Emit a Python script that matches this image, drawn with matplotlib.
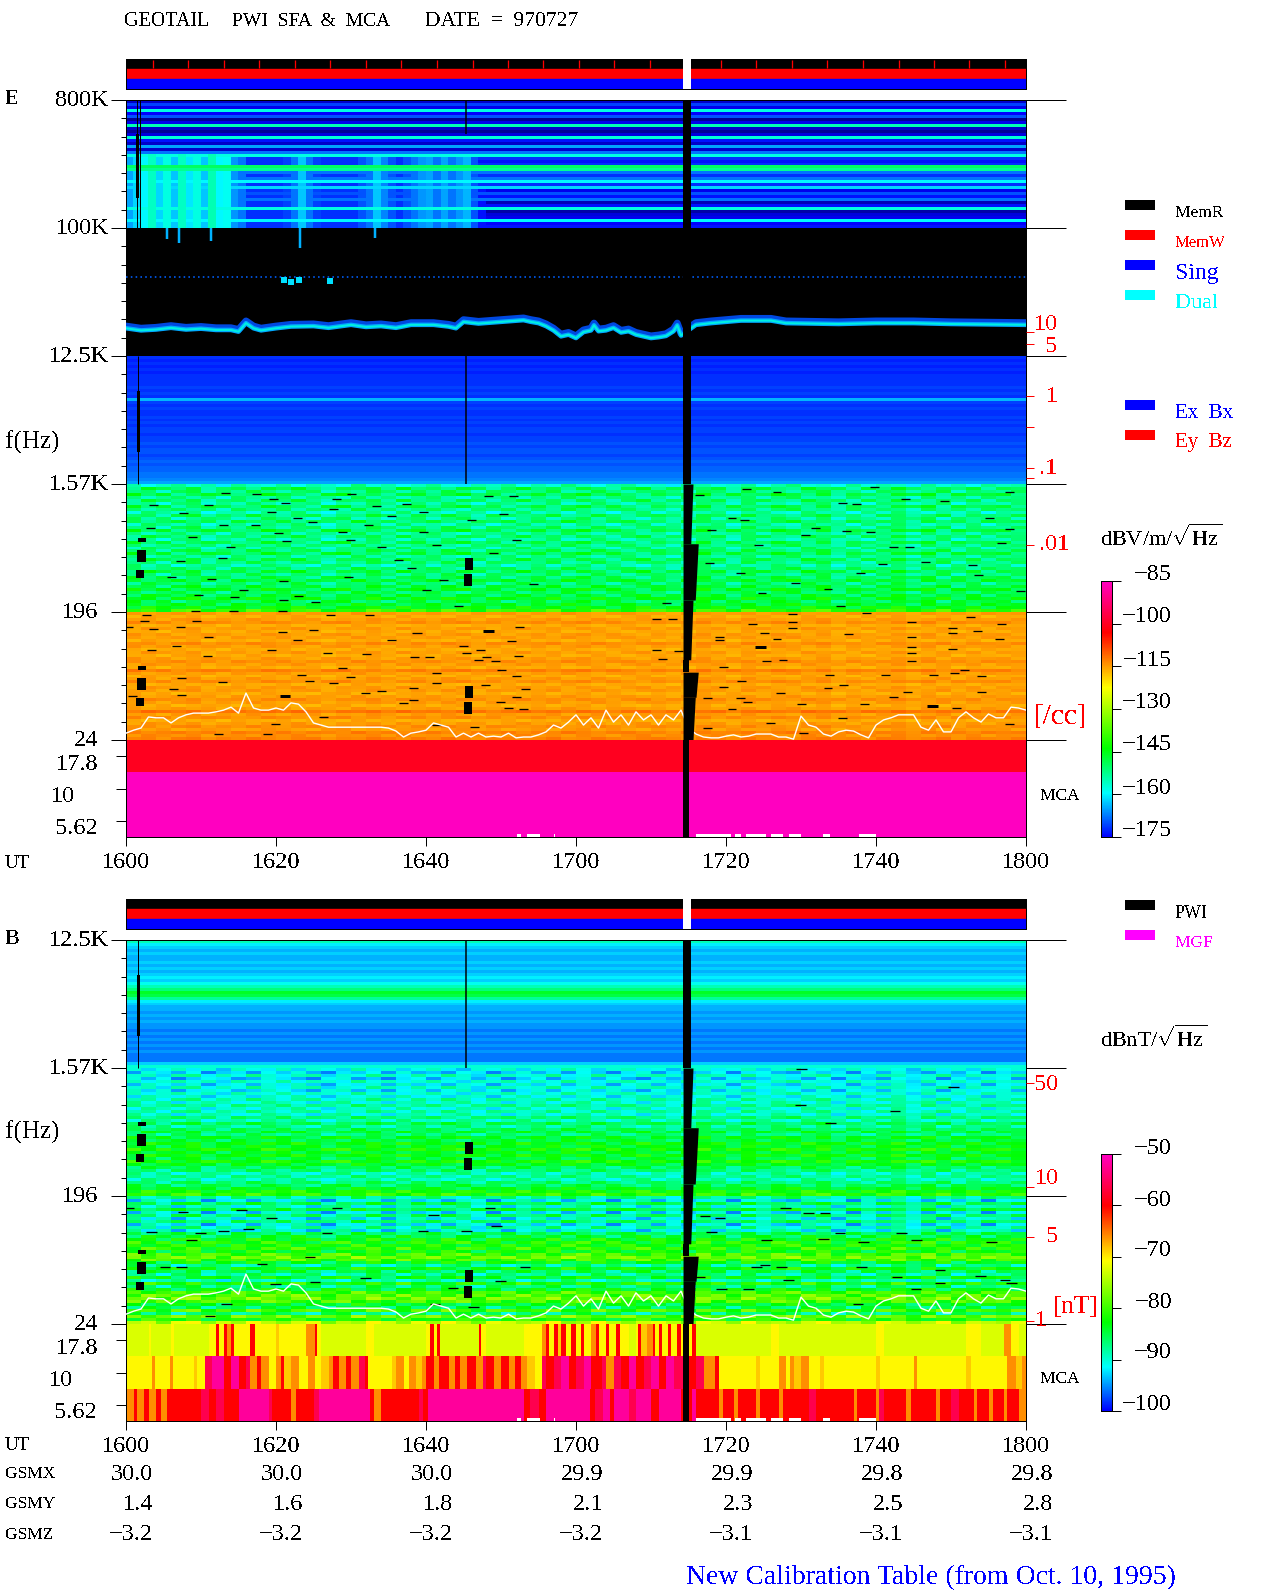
import numpy as np
import matplotlib
matplotlib.use("Agg")
import matplotlib.pyplot as plt
from matplotlib.colors import LinearSegmentedColormap, Normalize
from matplotlib.ticker import FixedLocator, NullFormatter

plt.rcParams['font.family'] = ['Liberation Serif', 'DejaVu Serif']
plt.rcParams['text.antialiased'] = False
plt.rcParams['mathtext.fontset'] = 'custom'
plt.rcParams['mathtext.rm'] = 'Liberation Serif'

# ---------- values (minutes after 1600 UT, octaves above 24 Hz, dB) ----------
UT_LABELS = ['1600', '1620', '1640', '1700', '1720', '1740', '1800']
GSMX = ['30.0', '30.0', '30.0', '29.9', '29.9', '29.8', '29.8']
GSMY = ['1.4', '1.6', '1.8', '2.1', '2.3', '2.5', '2.8']
GSMZ = ['-3.2', '-3.2', '-3.2', '-3.2', '-3.1', '-3.1', '-3.1']

E_HF_ROWS = [-178, -171, -176, -158, -175, -170, -181, -176, -155, -178, -181, -177, -157, -174, -178, -165,
             -178, -168, -158, -172, -174, -172, -150, -153, -168, -172, -168, -160, -172, -162, -176, -170,
             -174, -168, -179, -174, -158, -180, -177, -176, -160, -175, -174]
E_BURST = [-165, -162, -160, -156, -162, -158, -163, -156, -161, -158, -163, -155, -160, -159, -166, -168,
           -172, -172, -172, -172, -172, -171, -168, -163, -168, -171, -172, -172, -172, -172, -172, -170,
           -168, -163, -167, -170, -172, -170, -168, -166, -165, -168, -165, -168, -166, -164, -170, -174,
           ] + [-190] * 72
E_MIDHF_ROWS = [-172, -173, -172, -173, -172, -173, -172, -172, -172, -172, -171, -172, -171, -172, -164, -171,
                -172, -171, -172, -172, -171, -172, -171, -172, -171, -171, -172, -171, -171, -170, -171, -170,
                -170, -171, -170, -169, -170, -169, -169, -168, -168, -167, -165]
E_MID_ROWS = [-156, -150, -152, -149, -153, -151, -154, -150, -152, -155, -151, -153, -150, -154, -152, -149,
              -153, -151, -154, -150, -152, -153, -151, -149, -153, -150, -152, -154, -151, -149, -152, -150,
              -148, -151, -149, -147, -150, -148, -146, -149, -147, -145, -140]
E_LOW_ROWS = [-115, -116, -115, -114, -116, -115, -116, -115, -115, -116, -114, -115, -116, -115, -116, -115,
              -114, -115, -116, -113, -115, -116, -115, -114, -116, -115, -115, -116, -115, -114, -115, -116,
              -115, -112, -115, -114, -116, -115, -114, -115, -113, -114, -113]
COL_A = [1, -2, 0, 2, -1, 1, -3, 2, 0, -1, 2, -2, 1, 0, -2, 3, -1, 1, -2, 0, 2, -1, -3, 1, 0, 2, -2, 1, -1, 3,
         0, -2, 1, 2, -1, 0, -3, 2, 1, -1, 0, 2, -2, 1, 3, -1, 0, -2, 2, -1, 1, 0, -3, 2, -1, 1, -2, 2, 0, 1]
COL_B = [-2, 3, 1, -1, 2, -3, 0, 1, -2, 2, 0, 3, -1, -3, 1, 0, 2, -2, 3, -1, 0, -2, 2, 1, -3, 0, 3, -1, 1, -2,
         2, 0, -3, 1, 3, -2, 1, -1, 0, 2, -3, 1, 2, -1, -2, 3, 0, 1, -3, 2, -1, 3, 0, -2, 1, -1, 2, -3, 1, 0]
COL_C = [0, 1, -3, 2, 3, -2, 1, -1, 3, 0, -2, 1, 2, -3, 0, -1, 3, 1, -2, 2, -1, 3, 0, -3, 2, 1, -1, 0, 3, -2,
         -1, 3, 0, -2, 1, 2, 0, -3, 2, 1, -2, 3, -1, 0, -2, 1, 3, -1, 0, -3, 2, 1, -2, 0, 3, -3, 1, 0, -1, 2]
COL_D = [3, -1, 2, -3, 0, 2, 1, -2, -1, 3, 1, -1, -3, 2, 3, -2, 0, -3, 1, 2, -2, 1, 3, -1, 1, -3, 0, 2, -2, 1,
         3, -1, 2, -1, -3, 1, -1, 0, 3, -2, 2, -1, 0, 3, 1, -2, 2, -3, 1, 0, -2, 2, 1, 3, -3, 2, 0, 1, 2, -2]
COL_LISTS = [COL_A, COL_B, COL_C, COL_D]
E_MCA_LEVELS = [-100, -85, -85]

B_TOP_ROWS = [-89, -92, -93, -94, -93, -94, -94, -93, -94, -93, -94, -93, -92, -93, -91, -89, -87, -84, -85, -88,
              -92, -93, -94, -94, -95, -94, -95, -94, -95, -95, -96, -95, -96, -95, -96, -95, -96, -95, -96, -96,
              -96, -93, -90]
B_MID_ROWS = [-91, -93, -90, -93, -90, -92, -90, -92, -90, -91, -89, -90, -88, -90, -89, -90, -87, -89, -86, -88,
              -86, -85, -87, -84, -85, -83, -84, -82, -84, -83, -85, -82, -84, -86, -87, -89, -88, -89, -87, -86,
              -84, -82, -81]
B_LOW_ROWS = [-88, -92, -86, -90, -85, -92, -87, -91, -87, -92, -89, -91, -86, -85, -83, -82, -82, -81, -83, -80,
              -78, -80, -84, -88, -83, -86, -88, -84, -89, -82, -87, -84, -80, -79, -78, -80, -84, -86, -80, -87,
              -78, -82, -74]

MCA_LEVEL = {'g': -72.5, 'y': -70.5, 'l': -68.5, 'o': -66, 'r': -60, 'p': -56, 'm': -52}
B_MCA_17 = ("0g 3y 3.3g 6y 6.4g 11y 12r 12.4y 13r 13.5o 14r 14.4y 16.5r 17.2y 20l 20.4y 24o 25.2r 25.5y 26g 32y 33g "
            "40y 40.5r 41y 41.5r 41.9g 47r 47.3y 48g 53y 55.5o 56r 56.4y 57r 57.6l 58r 58.6y 59.3r 60y 60.6r 61y "
            "62o 62.6r 63y 64r 64.4y 65.3r 65.8y 67g 68y 68.3r 68.7l 69.5o 70.2r 70.5y 71r 71.4y 72.3r 72.7y 73.5r "
            "74y 75.5r 76g 86y 87g 100y 101g 112y 114g 117o 118y 119g")
B_MCA_10 = ("0y 3.4o 3.8y 5.8o 6.2y 9l 9.4y 10.5p 11.5m 13r 14m 15r 16p 16.5o 17.5r 18o 19y 20o 20.6r 21l 22o 23y "
            "24.2o 25.2y 26l 27o 27.6r 28.4o 29.3r 30o 31p 31.8r 32.2y 35.5l 36o 37y 37.7o 38.6l 39.4o 40r 41o 41.7r "
            "43o 43.8r 44.5o 45.5r 46.6o 47.6p 48r 49o 50r 51o 51.8r 52.6o 53.4l 54.5y 55.5p 56r 57p 58m 59r 60p 61m "
            "62r 63.4p 64o 65p 66r 67m 68r 69p 70m 71r 72m 73p 74.4r 76p 77o 78.5r 79y 84l 84.5y 87o 88y 88.5o 89l "
            "90o 91y 92.5l 93y 100l 100.5y 105o 105.4y 112l 112.6y 117.5o 118.6l 119.4o")
B_MCA_5 = ("0o 1r 1.5o 2.4r 3o 4r 4.6o 5.4r 10p 11r 12p 13r 15m 19p 19.4r 22o 22.6r 25p 25.7m 32.5r 33o 34r 39p 39.6r "
           "40.3m 53r 53.8p 55r 56m 61.8r 62.5p 63.6m 64.5r 65m 67p 68m 70r 71m 74r 75.5m 76r 79o 79.6r 81o 81.6r "
           "84o 84.5r 87o 87.6r 91p 92r 97o 97.5r 100o 100.4p 101r 104o 104.6r 108o 108.5r 110p 111r 113o 113.4r "
           "115o 115.6r 117o 117.5r 119o")
MCA_WHITE_T0 = [52.1, 53.5, 57.0, 76.0, 81.2, 82.6, 86.0, 88.4, 92.9, 97.7]
MCA_WHITE_T1 = [52.7, 55.2, 57.2, 80.6, 82.0, 85.3, 87.6, 90.0, 93.8, 100.0]

PLASMA_T = [0, 2, 4, 6, 8, 10, 12, 14, 15, 16, 17, 18, 20, 22, 25, 27, 30, 32, 34, 36, 38, 41, 43, 44, 45, 47, 50,
            53, 54, 55, 56, 57, 58, 59, 60, 61, 62, 62.4, 63, 64, 65, 66, 67, 68, 69, 70, 71, 72, 73, 73.5, 74,
            76, 78, 82, 86, 88, 95, 100, 105, 110, 115, 120]
PLASMA_OCT = [9.65, 9.60, 9.62, 9.66, 9.62, 9.64, 9.61, 9.61, 9.57, 9.77, 9.65, 9.60, 9.65, 9.69, 9.70, 9.66, 9.73,
              9.68, 9.70, 9.66, 9.73, 9.73, 9.69, 9.65, 9.80, 9.76, 9.80,
              9.84, 9.80, 9.77, 9.70, 9.60, 9.46, 9.50, 9.42, 9.56, 9.60, 9.72, 9.58, 9.60, 9.66, 9.55, 9.58, 9.50,
              9.46, 9.42, 9.44, 9.47, 9.58, 9.72, 9.48,
              9.73, 9.77, 9.83, 9.83, 9.77, 9.75, 9.77, 9.77, 9.75, 9.74, 9.73]
CONT_OCT = 10.84
DRIFT_T = [5.4, 7.0, 11.3, 23.2, 33.2]
DRIFT_OCT = [11.75, 11.65, 11.70, 11.53, 11.76]
BLOB_T = [21.0, 22.0, 23.0, 27.2]
BLOB_OCT = [10.78, 10.74, 10.78, 10.76]

TRACE_OCT = [.16, .23, .28, .54, .52, .52, .40, .52, .59, .63, .63, .63, .66, .70, .77, .63, 1.10, .75, .70, .70,
             .75, .70, .87, .84, .66, .40, .35, .30, .30, .30, .30, .30, .30, .30, .30, .28, .21, .07, .16, .19,
             .23, .40, .35, .30, .07, .16, .07, .16, .07, .09, .07, .16, .05, .07, .07, .12, .19, .35, .28, .42,
             .59, .35, .52, .28, .70, .42, .59, .35, .66, .47, .59, .35, .59, .47, .70, .28, .14, .07, .05, .05,
             .09, .12, .07, .09, .14, .14, .14, .07, .07, .02, .56, .35, .30, .14, .09, .19, .23, .21, .12, .05,
             .35, .47, .52, .59, .59, .59, .30, .23, .47, .19, .19, .52, .66, .52, .42, .61, .52, .52, .77, .75, .70]
B_TRACE_SHIFT = 0.07

BAR_TICKS = [3.56, 8.3, 13.0, 17.7, 22.5, 27.2, 32.0, 36.7, 41.4, 46.2, 50.9, 55.6, 60.4, 65.1, 69.8,
             79.3, 84.0, 88.8, 93.5, 98.2, 103.0, 107.7, 112.4, 117.2]

GAP_LEFT = 74.27
GAP_OCT_HI = [15, 6, 4.6, 3.28, 1.88, 1.59, 1.0]
GAP_OCT_LO = [6, 4.6, 3.28, 1.88, 1.59, 1.0, 0]
GAP_RIGHT_HI = [75.3, 75.6, 76.3, 75.6, 75.0, 76.3, 75.9]
GAP_RIGHT_LO = [75.3, 75.3, 75.9, 75.3, 75.0, 76.0, 75.6]

BLOCK_T0 = [1.6, 1.47, 1.33, 45.2, 45.07, 1.6, 1.47, 1.33, 45.2, 45.07]
BLOCK_T1 = [2.67, 2.67, 2.4, 46.27, 46.13, 2.67, 2.67, 2.4, 46.27, 46.13]
BLOCK_HI = [4.73, 4.45, 3.98, 4.27, 3.89, 1.73, 1.45, .98, 1.27, .89]
BLOCK_LO = [4.64, 4.17, 3.80, 3.98, 3.61, 1.64, 1.17, .80, .98, .61]

E_DASH_T = [13.2, 17.4, 30.1, 19.6, 28.1, 21.2, 3.6, 11, 37.4, 33.4, 48.3, 51.6, 27.6, 39.6, 7.6, 19.4, 22.8, 35.4,
            50.3, 24.8, 13, 17.2, 32.3, 46.1, 3.3, 39.6, 28.8, 20.3, 8.8, 21.4, 29.9, 52.1, 41.4, 13.9, 34.1, 49,
            12.8, 36.3, 7.2, 38.1, 6.1, 11.4, 21, 29.6, 42.3, 54.3, 15.6, 40.1, 9.6, 14.5, 23, 21, 25.2, 44.3, 9.2,
            14.3, 20.8,
            76.4, 82.7, 86.8, 99.8, 117.8, 78, 80.8, 95.5, 97.4, 103.9, 109.1, 115.1, 82.4, 91.9, 96, 99.3, 117.8,
            102.3, 90.6, 77.8, 84.3, 104.5, 89.2, 81.9, 97.9, 113.7, 112.9, 100.9, 106.6, 116.7, 84.8, 93.6, 72,
            95.2, 119.3,
            2.7, 27.2, 32.5, 2.5, 9.4, .3, 7.2, 3.6, 25, 20.8, 38.8, 52.5, 11, 22.8, 35.4, 51.4, 6.7, 45, 3.4, 19.4,
            47.2, 26.8, 45.4, 10.8, 32.1, 52.3, 38.5, 40.5, 48.1, 47, 49.2, 28.8, 50.1, 23.4, 41.4, 7.4, 29.9, 52.1,
            12.8, 24.5, 27.6, 41.4, 47.9, 38.3, 6.3, 53.2, 34.1, 31.9, 7.4, 52.1, .8, 38.3, 37, 49.9, 51, 53, 26.3,
            19.9, 12.3, 18.8, 46.5, 41.4,
            88.9, 98.7, 88.9, 88.9, 112.6, 104.7, 116.7, 70.7, 72.9, 83.5, 85.1, 79.1, 79.1, 96.3, 110.2, 110.2,
            113.5, 104.7, 116.5, 86.8, 104.7, 104.7, 104.7, 70.7, 73.7, 110.2, 79.7, 85.4, 87.6, 71.5, 93.8, 101.2,
            107.7, 110.5, 111.8, 114, 82.1, 95.7, 79.7, 93.6, 87.3, 102.3, 81.9, 104.2, 114, 77.5, 82.9, 90, 98.5,
            110.7, 80.8, 95.5, 85.9, 117.8, 77.5, 90.3]
E_DASH_OCT = [5.8, 5.76, 5.76, 5.66, 5.66, 5.55, 5.5, 5.5, 5.52, 5.48, 5.73, 5.73, 5.41, 5.34, 5.31, 5.34, 5.2, 5.24,
              5.29, 5.1, 5.05, 5.05, 5.05, 5.15, 4.96, 4.88, 4.87, 4.84, 4.75, 4.66, 4.68, 4.68, 4.56, 4.52, 4.52, 4.38,
              4.26, 4.23, 4.19, 4.02, 3.81, 3.77, 3.72, 3.81, 3.74, 3.65, 3.51, 3.51, 3.41, 3.34, 3.37, 3.27, 3.23, 3.13,
              3.02, 3.02, 3.02,
              5.74, 5.88, 5.82, 5.94, 5.82, 4.92, 5.2, 5.56, 5.53, 5.64, 5.59, 5.21, 5.16, 4.96, 4.91, 4.88, 4.94,
              4.52, 4.8, 4.16, 4.56, 4.52, 3.69, 3.91, 3.92, 3.87, 4.1, 4.13, 4.18, 4.61, 3.45, 3.55, 3.2,
              3.13, 3.5,
              2.92, 2.92, 2.92, 2.8, 2.78, 2.66, 2.64, 2.59, 2.57, 2.52, 2.5, 2.66, 2.41, 2.34, 2.34, 2.31, 2.2, 2.2, 2.1, 2.12,
              2.12, 2.05, 2.05, 1.98, 2.01, 1.96, 1.94, 1.94, 1.94, 1.87, 1.84, 1.68, 1.63, 1.52, 1.56, 1.45, 1.47, 1.49,
              1.35, 1.38, 1.33, 1.33, 1.28, 1.23, 1.19, 1.19, 1.16, 1.09, 1.05, 1, 1.02, .93, .86, .88, .74, .72, .55,
              .37, .13, .13, .3, .34,
              2.95, 2.97, 2.77, 2.62, 2.89, 2.76, 2.73, 2.83, 2.83, 2.73, 2.5, 2.42, 2.34, 2.48, 2.62, 2.5,
              2.55, 2.41, 2.36, 2.36, 2.17, 2.03, 1.84, 2.11, 2.09, 2.13, 1.72, 1.85, 1.88, 1.89, 1.52, 1.52,
              1.52, 1.56, 1.64, 1.5, 1.38, 1.3, 1.25, 1.21, 1.09, 1, .98, 1.12, 1.12, .98, .9, .84, .84,
              .74, .72, .52, .39, .37, .27, .17]
E_THICK_T = [48.3, 84.6, 21.2, 107.5]
E_THICK_OCT = [2.56, 2.19, 1.04, .8]
B_DASH_T = [.3, 7.6, 15.4, 19.4, 28.1, 41, 48.5, 3.4, 9.9, 13, 16.3, 26.8, 39.6, 45.4, 49.4, 8.7, 24.5, 5.2, 7.4, 18.1,
            53.2, 25.2, 31.9, 49.9, 13.4, 11.2, 41.2, 46.3, 19.9, 43.6,
            90.1, 89.9, 102.5, 93.9, 110.3, 77.2, 79.2, 87.9, 91, 93.2, 78.1, 85.4, 93, 98.3, 105.4, 115.4, 95.2,
            103.4, 85.2, 84.1, 87.4, 98.1, 108.5, 102.8, 88.3, 113.9, 117.2, 118.1, 83, 105.3, 76.5, 79.4, 97.6, 108.5]
B_DASH_OCT = [2.73, 2.63, 2.67, 2.48, 2.71, 2.55, 2.71, 2.16, 2.13, 2.19, 2.22, 2.13, 2.19, 2.19, 2.3, 1.96, 1.58, 1.34,
              1.33, 1.41, 1.34, .99, 1.07, 1.01, .46, .19, .48, .39, .94, .85,
              5.97, 5.13, 4.99, 4.7, 5.55, 2.53, 2.48, 2.73, 2.59, 2.61, 2.16, 1.97, 2.0, 1.93, 1.97, 1.93, 2.14,
              2.14, 1.38, 1.34, 1.34, 1.34, 1.27, 1.11, 1.02, 1.13, 1.02, .97, .81, .81, 1.11, .81, .46, .95]

E_CB_TICKS = [-85, -100, -115, -130, -145, -160, -175]
B_CB_TICKS = [-50, -60, -70, -80, -90, -100]
E_RED_TICKS = [9.56, 9.28, 8.06, 7.34, 6.37, 6.14, 4.57]
B_RED_TICKS = [5.65, 3.21, 2.04, .07]

# ---------- colour scale ----------
ANCHORS = [(0.0, (0, 0, 0)), (0.1429, (0, 0, 255)),
           (1 - .857 * .83, (0, 255, 255)), (1 - .857 * .655, (0, 255, 0)),
           (1 - .857 * .415, (255, 255, 0)), (1 - .857 * .2, (255, 0, 0)), (1.0, (255, 0, 192))]
CMAP = LinearSegmentedColormap.from_list('pwi', [(p, tuple(v / 255 for v in c)) for p, c in ANCHORS], N=512)
E_NORM = Normalize(-190, -85)
B_NORM = Normalize(-50 - 50 / .857, -50)

W, H = 1280, 1593
fig = plt.figure(figsize=(W / 100, H / 100), dpi=100, facecolor='white')


def px_axes(l, t, r, b):
    return fig.add_axes([l / W, 1 - b / H, (r - l) / W, (b - t) / H])


def pt(px):
    return px * 0.72


def band(ax, rows, scale, lo, hi, norm):
    a = np.array([np.asarray(COL_LISTS[i % 4], float) * scale + r for i, r in enumerate(rows)])
    ax.imshow(a, cmap=CMAP, norm=norm, extent=(0, 120, lo, hi), origin='upper', aspect='auto',
              interpolation='nearest', zorder=1)


def parse_runs(spec):
    items = spec.split()
    starts = [float(s[:-1]) for s in items]
    vals = [MCA_LEVEL[s[-1]] for s in items]
    return starts, vals


def marks(ax, rows_top):
    for seg in range(len(GAP_OCT_HI)):
        hi = min(GAP_OCT_HI[seg], rows_top)
        if GAP_OCT_LO[seg] >= rows_top:
            continue
        ax.fill_betweenx([hi, GAP_OCT_LO[seg]], GAP_LEFT, [GAP_RIGHT_HI[seg], GAP_RIGHT_LO[seg]],
                         color='black', lw=0, zorder=6)
    for t0, t1, hi, lo in zip(BLOCK_T0, BLOCK_T1, BLOCK_HI, BLOCK_LO):
        ax.fill_between([t0, t1], lo, hi, color='black', lw=0, zorder=5)


def axes_style(ax, top_oct):
    ax.set_xlim(0, 120)
    ax.set_ylim(0, top_oct)
    ax.set_xticks([])
    ax.set_yticks(np.arange(0, top_oct + .1, 3))
    ax.yaxis.set_minor_locator(FixedLocator(np.arange(0, top_oct + .01, 3 / 7)))
    ax.yaxis.set_major_formatter(NullFormatter())
    ax.tick_params(axis='y', which='major', length=pt(15), width=pt(1), direction='out')
    ax.tick_params(axis='y', which='minor', length=pt(5), width=pt(1), direction='out')
    for s in ax.spines.values():
        s.set_linewidth(pt(1))
    tw = ax.twinx()
    tw.set_ylim(0, top_oct)
    tw.set_yticks(np.arange(0, top_oct + .1, 3))
    tw.yaxis.set_major_formatter(NullFormatter())
    tw.tick_params(axis='y', which='major', length=pt(40), width=pt(1), direction='out')
    for s in tw.spines.values():
        s.set_visible(False)
    return tw


def red_ticks(tw, locs):
    tw.yaxis.set_minor_locator(FixedLocator(locs))
    tw.yaxis.set_minor_formatter(NullFormatter())
    tw.tick_params(axis='y', which='minor', length=pt(8), width=pt(1), color='red', direction='out')


def mca_style(ax):
    ax.set_xlim(0, 120)
    ax.set_ylim(0, 3)
    ax.set_xticks(np.arange(0, 121, 20))
    ax.set_xticklabels([])
    ax.set_yticks([.5, 1.5, 2.5])
    ax.set_yticklabels([])
    ax.tick_params(axis='x', length=pt(9), width=pt(1))
    ax.tick_params(axis='y', length=pt(10), width=pt(1))
    for s in ax.spines.values():
        s.set_linewidth(pt(1))
    ax.spines['top'].set_visible(False)
    ax.axvspan(GAP_LEFT, 75.0, color='black', lw=0, zorder=6)
    for t0, t1 in zip(MCA_WHITE_T0, MCA_WHITE_T1):
        ax.fill_between([t0, t1], 0, .08, color='white', lw=0, zorder=5)


def status_bars(ax, ticks):
    ax.broken_barh([(0, 120)], (2, 1), color='black')
    ax.broken_barh([(0, 120)], (1, 1), color='red')
    ax.broken_barh([(0, 120)], (0, 1), color='#0000ff')
    if ticks:
        ax.vlines(BAR_TICKS, 2.1, 2.9, color='red', lw=pt(1.3))
    ax.axvspan(GAP_LEFT, 75.3, color='white', lw=0, zorder=4)
    ax.set_xlim(0, 120)
    ax.set_ylim(0, 3)
    ax.set_xticks([])
    ax.set_yticks([])
    for s in ax.spines.values():
        s.set_linewidth(pt(1))


def thin_gaps(ax, top):
    if top > 12:
        ax.vlines([1.5, 1.9], 12, 15, color='black', lw=pt(1), zorder=5)
        ax.fill_between([1.33, 1.73], 12.7, 14.2, color='black', lw=0, zorder=5)
        ax.vlines(45.3, 14.2, 15, color='black', lw=pt(1.5), zorder=5)
    ax.vlines(1.65, 6, 9, color='black', lw=pt(1), zorder=5)
    ax.fill_between([1.45, 1.85], 6.75, 8.18, color='black', lw=0, zorder=5)
    ax.vlines(45.3, 6, 9, color='black', lw=pt(1.5), zorder=5)


# ---------- electric field panel ----------
status_bars(px_axes(126, 59, 1026, 89), True)
ax_e = px_axes(126, 100, 1026, 740)
ax_e.set_facecolor('black')
hf = np.repeat(np.asarray(E_HF_ROWS, float)[:, None], 120, axis=1)
hf[18:, :] = np.maximum(hf[18:, :], np.asarray(E_BURST, float)[None, :])
ax_e.imshow(hf, cmap=CMAP, norm=E_NORM, extent=(0, 120, 12, 15), origin='upper', aspect='auto',
            interpolation='nearest', zorder=1)
band(ax_e, E_MIDHF_ROWS, 0.0, 6, 9, E_NORM)
band(ax_e, E_MID_ROWS, 1.6, 3, 6, E_NORM)
band(ax_e, E_LOW_ROWS, 0.4, 0, 3, E_NORM)
ax_e.vlines(DRIFT_T, DRIFT_OCT, 12, color='#00b0ff', lw=pt(2.5), zorder=3)
ax_e.plot([0, 120], [CONT_OCT, CONT_OCT], ls=(0, (1, 2)), color='#0060ff', lw=pt(1.6), zorder=3)
ax_e.scatter(BLOB_T, BLOB_OCT, s=16, marker='s', color='#00e0ff', lw=0, zorder=3)
ax_e.plot(PLASMA_T, np.asarray(PLASMA_OCT) + .05, color='#0048e0', lw=pt(7), zorder=3)
ax_e.plot(PLASMA_T, PLASMA_OCT, color='#00a8ff', lw=pt(4.5), zorder=3)
ax_e.plot(PLASMA_T, PLASMA_OCT, color='#00f0e0', lw=pt(2), zorder=3)
ax_e.hlines(E_DASH_OCT, np.asarray(E_DASH_T) - .6, np.asarray(E_DASH_T) + .6, color='black', lw=pt(1.3), zorder=4)
ax_e.hlines(E_THICK_OCT, np.asarray(E_THICK_T) - .7, np.asarray(E_THICK_T) + .7, color='black', lw=pt(3), zorder=4)
ax_e.plot(np.arange(len(TRACE_OCT)), TRACE_OCT, color='white', lw=pt(1.4), zorder=5)
thin_gaps(ax_e, 15)
marks(ax_e, 15)
tw_e = axes_style(ax_e, 15)
red_ticks(tw_e, E_RED_TICKS)

mca_e = px_axes(126, 740, 1026, 837)
mca_e.imshow(np.asarray(E_MCA_LEVELS, float)[:, None],
             cmap=CMAP, norm=E_NORM, extent=(0, 120, 0, 3), origin='upper', aspect='auto', interpolation='nearest')
mca_style(mca_e)

# ---------- magnetic field panel ----------
status_bars(px_axes(126, 899, 1026, 929), False)
ax_b = px_axes(126, 940, 1026, 1324)
band(ax_b, B_TOP_ROWS, 0.0, 6, 9, B_NORM)
band(ax_b, B_MID_ROWS, 0.9, 3, 6, B_NORM)
band(ax_b, B_LOW_ROWS, 1.2, 0, 3, B_NORM)
ax_b.hlines(B_DASH_OCT, np.asarray(B_DASH_T) - .7, np.asarray(B_DASH_T) + .7, color='black', lw=pt(1.3), zorder=4)
ax_b.plot(np.arange(len(TRACE_OCT)), np.asarray(TRACE_OCT) + B_TRACE_SHIFT, color='white', lw=pt(1.4), zorder=5)
thin_gaps(ax_b, 9)
marks(ax_b, 9)
tw_b = axes_style(ax_b, 9)
red_ticks(tw_b, B_RED_TICKS)

mca_b = px_axes(126, 1324, 1026, 1421)
for row, spec in enumerate([B_MCA_5, B_MCA_10, B_MCA_17]):
    starts, vals = parse_runs(spec)
    edges = starts + [120.0]
    mca_b.pcolormesh(edges, [row, row + 1], np.asarray(vals)[None, :], cmap=CMAP, norm=B_NORM, shading='flat')
mca_style(mca_b)

# ---------- colour bars ----------
cb_e = px_axes(1101, 581, 1112, 837)
cb_e.imshow(np.linspace(-85, -175, 256)[:, None], cmap=CMAP, norm=E_NORM, extent=(0, 1, -175, -85), aspect='auto')
cb_b = px_axes(1101, 1154, 1112, 1411)
cb_b.imshow(np.linspace(-50, -100, 256)[:, None], cmap=CMAP, norm=B_NORM, extent=(0, 1, -100, -50), aspect='auto')
for cb, ticks in ((cb_e, E_CB_TICKS), (cb_b, B_CB_TICKS)):
    cb.set_xticks([])
    cb.set_yticks(ticks)
    cb.set_yticklabels([])
    cb.yaxis.tick_right()
    cb.tick_params(axis='y', length=pt(9), width=pt(1))
    for s in cb.spines.values():
        s.set_linewidth(pt(1))

# ---------- text overlay ----------
ov = fig.add_axes([0, 0, 1, 1], facecolor='none')
ov.set_xlim(0, W)
ov.set_ylim(H, 0)
ov.axis('off')
DIG, LET = 17.5, 14.5
YOFF = 2


def T(x, y, s, ha='left', color='black', size=DIG):
    ov.text(x, y + YOFF, s, ha=ha, va='center', color=color, fontsize=size)


T(124, 20, 'GEOTAIL', size=LET)
T(232, 20, 'PWI  SFA  &  MCA', size=14)
T(425, 20, 'DATE  =  970727', size=15.5)
T(5, 98, 'E', size=16)
T(5, 938, 'B', size=16)
T(5, 440, 'f(Hz)', size=18)
T(5, 1130, 'f(Hz)', size=18)
for y, s, r in [(98, '800K', 109), (227, '100K', 109), (355, '12.5K', 109), (483, '1.57K', 109), (611, '196', 98),
                (739, '24', 98), (762, '17.8', 98), (795, '10', 75), (826, '5.62', 98), (938, '12.5K', 109),
                (1067, '1.57K', 109), (1194, '196', 98), (1323, '24', 98), (1346, '17.8', 98), (1378, '10', 73),
                (1410, '5.62', 97)]:
    T(r, y, s, ha='right')
T(5, 861, 'UT', size=13.5)
T(5, 1444, 'UT', size=13.5)
for i, s in enumerate(UT_LABELS):
    T(126 + 150 * i, 861, s, ha='center')
    T(126 + 150 * i, 1444, s, ha='center')
for y, name, vals in [(1472, 'GSMX', GSMX), (1502, 'GSMY', GSMY), (1533, 'GSMZ', GSMZ)]:
    T(5, y, name, size=12.5)
    for i, s in enumerate(vals):
        T(153 + 150 * i, y, s.replace('-', '\u2212'), ha='right')
for y, s in [(322, '10'), (345, '5'), (395, '1'), (467, '.1')]:
    T(1058, y, s, ha='right', color='red')
T(1070, 543, '.01', ha='right', color='red')
T(1034, 714, '[/cc]', color='red', size=21)
T(1040, 794, 'MCA', size=12.5)
T(1040, 1377, 'MCA', size=12.5)
for y, s in [(1082, '50'), (1177, '10'), (1235, '5')]:
    T(1059, y, s, ha='right', color='red')
T(1047, 1318, '1', ha='right', color='red')
T(1053, 1305, '[nT]', color='red', size=18)

LEG_BOX = [(200, 'black'), (230, 'red'), (260, '#0000ff'), (290, 'cyan'), (400, '#0000ff'), (430, 'red'),
           (900, 'black'), (930, '#ff00ff')]
LEG_TXT = ['MemR', 'MemW', 'Sing', 'Dual', 'Ex  Bx', 'Ey  Bz', 'PWI', 'MGF']
LEG_SIZE = [12.5, 12, 17, 16, 15, 15, 13, 12.5]
for (y, c), s, z in zip(LEG_BOX, LEG_TXT, LEG_SIZE):
    ov.fill_between([1125, 1155], y, y + 10, color=c, lw=0)
    T(1175, y + 11, s, color=c, size=z)

T(1100, 536, r'dBV/m/$\sqrt{\mathrm{Hz}}$', size=16)
T(1100, 1037, r'dBnT/$\sqrt{\mathrm{Hz}}$', size=16)
for y, s in [(572, '85'), (614, '100'), (658, '115'), (700, '130'), (743, '145'), (786, '160'), (828, '175')]:
    T(1172, y, '\u2212' + s, ha='right')
for y, s in [(1146, '50'), (1198, '60'), (1249, '70'), (1301, '80'), (1351, '90'), (1402, '100')]:
    T(1172, y, '\u2212' + s, ha='right')
T(1176, 1576, 'New Calibration Table (from Oct. 10, 1995)', ha='right', color='#0000ff', size=20)

fig.savefig('out.png', dpi=100, facecolor='white')
